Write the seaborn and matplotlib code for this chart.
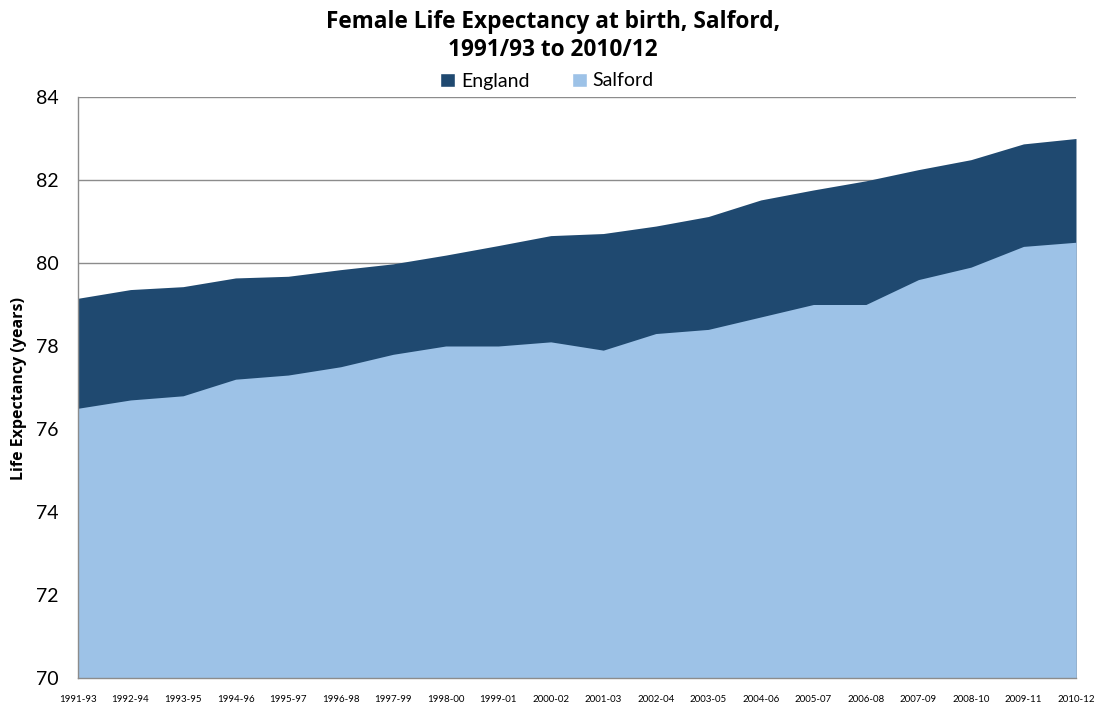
import numpy as np
import pandas as pd
import matplotlib
matplotlib.use("Agg")
import matplotlib.pyplot as plt
import seaborn as sns
from matplotlib.patches import Patch

periods = ["1991-93", "1992-94", "1993-95", "1994-96", "1995-97", "1996-98", "1997-99",
           "1998-00", "1999-01", "2000-02", "2001-03", "2002-04", "2003-05", "2004-06",
           "2005-07", "2006-08", "2007-09", "2008-10", "2009-11", "2010-12"]
england = [79.15, 79.36, 79.43, 79.64, 79.68, 79.84, 79.98, 80.19, 80.42, 80.66,
           80.71, 80.89, 81.12, 81.52, 81.76, 81.98, 82.25, 82.49, 82.87, 83.00]
salford = [76.5, 76.7, 76.8, 77.2, 77.3, 77.5, 77.8, 78.0, 78.0, 78.1,
           77.9, 78.3, 78.4, 78.7, 79.0, 79.0, 79.6, 79.9, 80.4, 80.5]
yticks = [70, 72, 74, 76, 78, 80, 82, 84]

C_ENG = "#1F4970"
C_SAL = "#9DC2E7"
GRID = "#8C8C8C"

sns.set_theme(style="white")
plt.rcParams['font.family'] = ['Lato', 'DejaVu Sans']
plt.rcParams['text.color'] = 'black'
plt.rcParams['xtick.color'] = 'black'
plt.rcParams['ytick.color'] = 'black'

df = pd.DataFrame({"pos": np.arange(len(periods)), "period": periods,
                   "England": england, "Salford": salford})

fig = plt.figure(figsize=(11.04, 7.07), dpi=100)
ax = fig.add_axes([78/1104, 1 - 678/707, (1076-78)/1104, (678-97)/707])

for yv in yticks[1:]:
    ax.axhline(yv, color=GRID, lw=1.0, zorder=0)

for name, col in [("England", C_ENG), ("Salford", C_SAL)]:
    sns.lineplot(data=df, x="pos", y=name, color=col, lw=0, ax=ax, zorder=2)
    ax.fill_between(df["pos"], 70, df[name], color=col, lw=0, zorder=2)

ax.set_xlim(0, len(periods) - 1)
ax.set_ylim(70, 84)
ax.set_yticks(yticks)
ax.set_yticklabels([str(v) for v in yticks], fontsize=14)
ax.set_xticks(df["pos"])
ax.set_xticklabels(periods, fontsize=7)
ax.tick_params(axis="y", length=0, pad=14)
ax.tick_params(axis="x", length=0, pad=12)
ax.set_xlabel("")
ax.set_ylabel("")

for s in ["top", "right"]:
    ax.spines[s].set_visible(False)
for s in ["left", "bottom"]:
    ax.spines[s].set_color(GRID)
    ax.spines[s].set_linewidth(1.0)

fig.text(19/1104, 1 - 388/707, "Life Expectancy (years)", rotation=90, ha="center", va="center",
         fontsize=11.5, fontweight="bold", family=["Open Sans", "DejaVu Sans"])

fig.text(553/1104, 1 - 36/707, "Female Life Expectancy at birth, Salford,\n1991/93 to 2010/12",
         ha="center", va="center", fontsize=16.3, fontweight="bold", linespacing=1.25,
         family=["Open Sans", "DejaVu Sans"])

handles = [Patch(facecolor=C_ENG, label="England"), Patch(facecolor=C_SAL, label="Salford")]
fig.legend(handles=handles, loc="center", bbox_to_anchor=(547/1104, 1 - 81/707), ncol=2,
           frameon=False, fontsize=14, handlelength=0.75, handleheight=0.75,
           handletextpad=0.3, columnspacing=2.2, borderpad=0)

fig.savefig("out.png", dpi=100, facecolor="white")
